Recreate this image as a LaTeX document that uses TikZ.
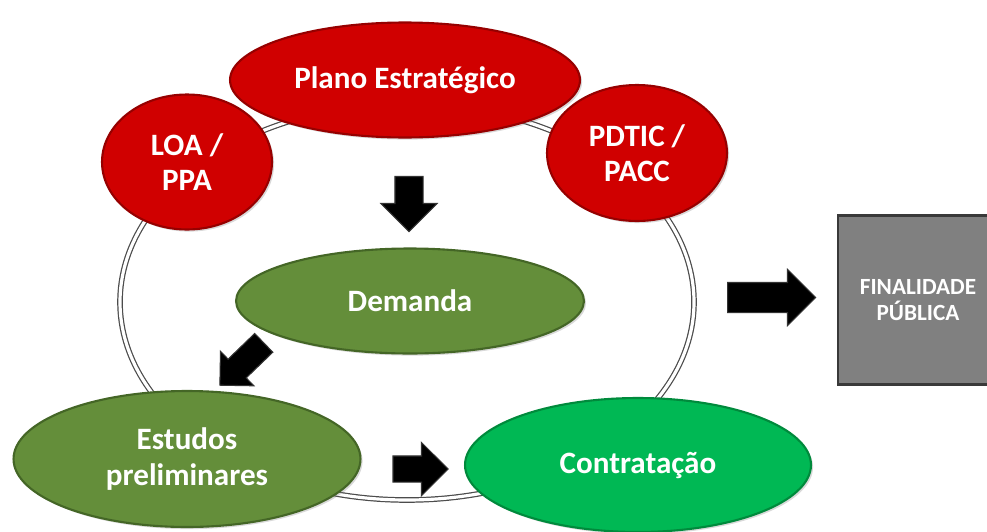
\documentclass[tikz,border=0pt]{standalone}
\usepackage{fontspec}
\setmainfont{Carlito}
\usepackage{tikz}
\usetikzlibrary{shapes.geometric,shapes.arrows,shadows}
\definecolor{PlanRed}{RGB}{208,0,0}
\definecolor{PlanRedDark}{RGB}{150,0,0}
\definecolor{StepGreen}{RGB}{100,142,58}
\definecolor{StepGreenDark}{RGB}{68,102,38}
\definecolor{DealGreen}{RGB}{0,184,84}
\definecolor{DealGreenDark}{RGB}{0,138,60}
\definecolor{BoxGray}{RGB}{128,128,128}

\begin{document}
\begin{tikzpicture}[x=0.02cm,y=-0.02cm,
  every node/.style={font=\fontsize{17.7}{20}\selectfont\bfseries,text=white,align=center,inner sep=0pt,outer sep=0pt},
  ov/.style={ellipse,line width=1.2pt,drop shadow={opacity=0.3,shadow xshift=1.2pt,shadow yshift=-1.2pt}},
  red/.style={ov,fill=PlanRed,draw=PlanRedDark},
  grn/.style={ov,fill=StepGreen,draw=StepGreenDark},
  deal/.style={ov,fill=DealGreen,draw=DealGreenDark},
  blk/.style={single arrow,fill=black,draw=gray!40!black,line width=0.6pt,single arrow head indent=0pt,inner xsep=0pt}]
\useasboundingbox (0,0) rectangle (987,531);
% ring behind the cycle
\draw[gray!60!black,line width=0.7pt,double=white,double distance=1.8pt] (407,302) ellipse [x radius=287,y radius=198];

\node[red,minimum width=7cm,minimum height=2.3cm] (plano) at (405,80) {Plano Estratégico};
\node[red,minimum width=3.4cm,minimum height=2.7cm] (loa) at (187,162) {LOA /\\PPA};
\node[red,minimum width=3.6cm,minimum height=2.72cm] (pdtic) at (637,153) {PDTIC /\\PACC};
\node[grn,minimum width=6.96cm,minimum height=2.1cm] (demanda) at (410,301) {Demanda};
\node[grn,minimum width=6.94cm,minimum height=2.72cm] (estudos) at (187,459) {Estudos\\preliminares};
\node[deal,minimum width=6.92cm,minimum height=2.68cm] (contrat) at (638,465) {Contratação};
\node[draw=gray!45!black,line width=1.6pt,fill=BoxGray,minimum width=3.2cm,minimum height=3.38cm,
  font=\fontsize{13.2}{15}\selectfont\bfseries] (fim) at (918,300) {FINALIDADE\\PÚBLICA};

% block arrows
\node[blk,rotate=270,minimum height=1.1cm,inner ysep=0.27cm,single arrow head extend=0.28cm] (a1) at (409,197) {};
\node[blk,rotate=224,minimum height=1.22cm,inner ysep=0.25cm,single arrow head extend=0.22cm] (a2) at (246.5,359.5) {};
\node[blk,minimum height=1.1cm,inner ysep=0.25cm,single arrow head extend=0.27cm] (a3) at (414,469) {};
\node[blk,minimum height=1.76cm,inner ysep=0.29cm,single arrow head extend=0.26cm] (a4) at (764,297.5) {};
\end{tikzpicture}
\end{document}
